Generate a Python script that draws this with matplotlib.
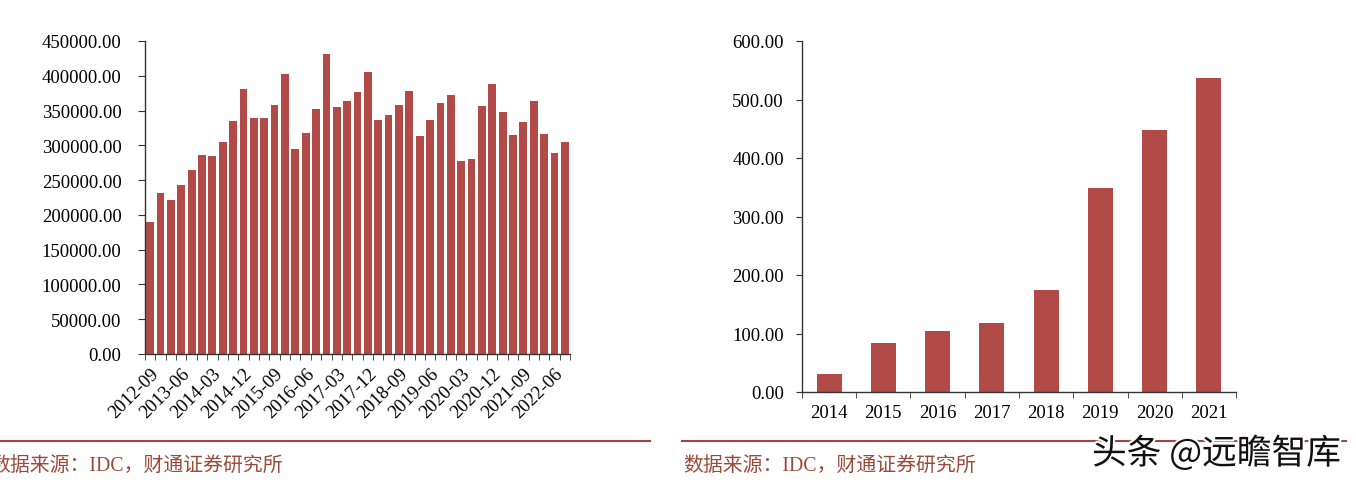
import matplotlib
matplotlib.use("Agg")
import matplotlib.pyplot as plt
import matplotlib.patheffects as pe
import numpy as np

plt.rcParams['font.family'] = ['Liberation Serif', 'Noto Sans CJK SC']

# Left chart: quarterly shipments
quarters = ["2012-09", "2012-12", "2013-03", "2013-06", "2013-09", "2013-12",
            "2014-03", "2014-06", "2014-09", "2014-12", "2015-03", "2015-06",
            "2015-09", "2015-12", "2016-03", "2016-06", "2016-09", "2016-12",
            "2017-03", "2017-06", "2017-09", "2017-12", "2018-03", "2018-06",
            "2018-09", "2018-12", "2019-03", "2019-06", "2019-09", "2019-12",
            "2020-03", "2020-06", "2020-09", "2020-12", "2021-03", "2021-06",
            "2021-09", "2021-12", "2022-03", "2022-06", "2022-09"]
quarter_values = [189300, 231500, 221400, 243400, 264100, 286600,
                  284200, 304300, 335000, 380500, 338800, 339800,
                  358000, 402100, 294300, 317300, 352200, 430800,
                  355500, 363300, 376200, 405900, 336900, 344100,
                  357500, 378100, 313000, 336000, 360400, 372900,
                  277900, 280300, 356100, 388700, 348400, 315300,
                  333600, 364200, 316300, 288500, 304300]

# Right chart: annual values
years = ["2014", "2015", "2016", "2017", "2018", "2019", "2020", "2021"]
year_values = [31.3, 84.3, 104.8, 118.0, 175.0, 348.7, 448.4, 536.8]

source_text = "数据来源：IDC，财通证券研究所"
watermark = "头条 @远瞻智库"

bar_color = "#B24A47"
line_color = "#A0463F"
src_color = "#9A4A3A"
axis_color = "#333333"

W, H = 1356, 485
fig = plt.figure(figsize=(W / 100, H / 100), dpi=100)

def ax_rect(x0, y0, x1, y1):
    return [x0 / W, 1 - y1 / H, (x1 - x0) / W, (y1 - y0) / H]

FS = 13.5

# ---- Left axes ----
ax1 = fig.add_axes(ax_rect(145, 42, 570, 355))
x1 = np.arange(len(quarters))
ax1.bar(x1, quarter_values, width=0.75, color=bar_color)
ax1.set_xlim(-0.5, len(quarters) - 0.5)
ax1.set_ylim(0, 450000)
ax1.set_yticks(np.arange(0, 450001, 50000))
ax1.set_yticklabels([f"{v:.2f}" for v in np.arange(0, 450001, 50000)], fontsize=FS)
ax1.set_xticks(x1[::3])
ax1.set_xticklabels(quarters[::3], rotation=45, ha='right', rotation_mode='anchor', fontsize=FS)
ax1.set_xticks(np.arange(-0.5, len(quarters), 1), minor=True)
ax1.tick_params(axis='x', which='major', length=0, pad=8)
ax1.tick_params(axis='x', which='minor', length=4, direction='out', color=axis_color)
ax1.tick_params(axis='y', length=5, direction='out', color=axis_color, pad=12)
for s in ['top', 'right']:
    ax1.spines[s].set_visible(False)
for s in ['left', 'bottom']:
    ax1.spines[s].set_color(axis_color)
    ax1.spines[s].set_linewidth(1.0)

# ---- Right axes ----
ax2 = fig.add_axes(ax_rect(802, 42, 1236, 393))
x2 = np.arange(len(years))
ax2.bar(x2, year_values, width=0.46, color=bar_color)
ax2.set_xlim(-0.5, len(years) - 0.5)
ax2.set_ylim(0, 600)
ax2.set_yticks(np.arange(0, 601, 100))
ax2.set_yticklabels([f"{v:.2f}" for v in np.arange(0, 601, 100)], fontsize=FS)
ax2.set_xticks(x2)
ax2.set_xticklabels(years, fontsize=FS)
ax2.set_xticks(np.arange(-0.5, len(years), 1), minor=True)
ax2.tick_params(axis='x', which='major', length=0, pad=9)
ax2.tick_params(axis='x', which='minor', length=4, direction='out', color=axis_color)
ax2.tick_params(axis='y', length=4, direction='out', color=axis_color, pad=9)
for s in ['top', 'right']:
    ax2.spines[s].set_visible(False)
for s in ['left', 'bottom']:
    ax2.spines[s].set_color(axis_color)
    ax2.spines[s].set_linewidth(1.0)

# ---- Footer lines and source text ----
fig.add_artist(plt.Line2D([0 / W, 650 / W], [1 - 442 / H, 1 - 442 / H], color=line_color, lw=1.5))
fig.add_artist(plt.Line2D([682 / W, 1346 / W], [1 - 442 / H, 1 - 442 / H], color=line_color, lw=1.5))
fig.text(-10 / W, 1 - 466 / H, source_text, fontsize=14.3, color=src_color, va='center', ha='left')
fig.text(683 / W, 1 - 466 / H, source_text, fontsize=14.3, color=src_color, va='center', ha='left')
fig.text(1092 / W, 1 - 455 / H, watermark, fontsize=25, color='#111111', va='center', ha='left',
         family=['Noto Sans CJK SC', 'DejaVu Sans'],
         path_effects=[pe.withStroke(linewidth=3, foreground='white')])

fig.savefig("out.png", dpi=100)
